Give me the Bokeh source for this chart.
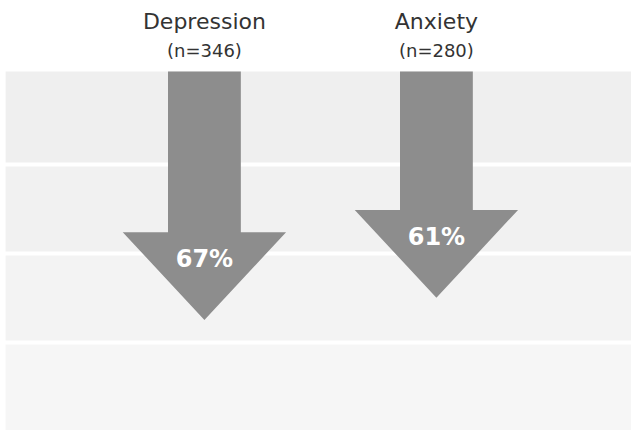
from bokeh.plotting import figure
from bokeh.models import Range1d, ColumnDataSource
from bokeh.core.properties import value
from bokeh.embed import file_html
from bokeh.resources import INLINE

# ---- data ----
categories = ["Depression", "Anxiety"]
sample_labels = ["(n=346)", "(n=280)"]
percent_values = [67, 61]
grid_levels = [0, 25, 49, 73]

# ---- style constants ----
ARROW_COLOR = "#8d8d8d"
SHAFT_HALF = 0.157
HEAD_HALF = 0.352
HEAD_LEN = 23.7
Y_TOP, Y_BOTTOM = -19.14, 96.76
X_START, X_END = -0.879, 1.841
FONT = value("DejaVu Sans")
band_colors = ["#efefef", "#f1f1f1", "#f3f3f3", "#f6f6f6"]

p = figure(width=631, height=430, output_backend="svg", toolbar_location=None,
           x_range=Range1d(X_START, X_END), y_range=Range1d(Y_BOTTOM, Y_TOP),
           min_border=0, min_border_left=0, min_border_right=0,
           min_border_top=0, min_border_bottom=0)
p.axis.visible = False
p.grid.visible = False
p.outline_line_color = None
p.background_fill_color = "white"
p.border_fill_color = "white"

# background bands
tops = grid_levels
bottoms = grid_levels[1:] + [Y_BOTTOM + 5]
p.quad(left=X_START + 0.022, right=X_END + 1, top=tops, bottom=bottoms,
       fill_color=band_colors, line_color=None)
# white separators
p.hspan(y=grid_levels[1:], line_color="white", line_width=4)

# arrows
xs, ys = [], []
for i, v in enumerate(percent_values):
    c = i
    xs.append([c - SHAFT_HALF, c + SHAFT_HALF, c + SHAFT_HALF, c + HEAD_HALF, c,
               c - HEAD_HALF, c - SHAFT_HALF])
    ys.append([0, 0, v - HEAD_LEN, v - HEAD_LEN, v, v - HEAD_LEN, v - HEAD_LEN])
p.patches(xs=xs, ys=ys, fill_color=ARROW_COLOR, line_color=None)

xpos = list(range(len(categories)))
src = ColumnDataSource(dict(
    x=xpos,
    cat=categories,
    n=sample_labels,
    pct=[f"{v}%" for v in percent_values],
    pct_y=[v - 16.5 for v in percent_values],
    title_y=[-13.6] * len(categories),
    n_y=[-5.6] * len(categories),
))

p.text(x="x", y="title_y", text="cat", source=src, text_font=FONT,
       text_font_size=value("22px"), text_color="#333333",
       text_align="center", text_baseline="alphabetic")
p.text(x="x", y="n_y", text="n", source=src, text_font=FONT,
       text_font_size=value("18px"), text_color="#333333",
       text_align="center", text_baseline="middle")
p.text(x="x", y="pct_y", text="pct", source=src, text_font=FONT,
       text_font_size=value("24px"), text_font_style="bold", text_color="white",
       text_align="center", text_baseline="middle")

open("out.html", "w").write(file_html(p, INLINE))
